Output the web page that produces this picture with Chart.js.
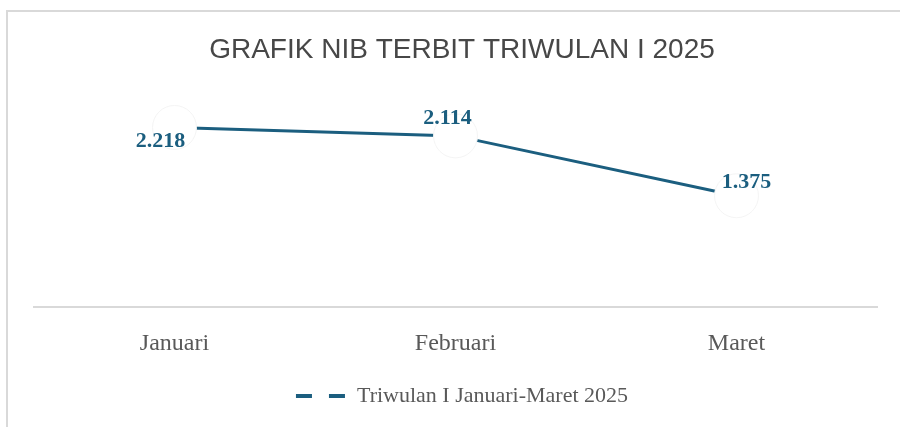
<!DOCTYPE html>
<html>
<head>
<meta charset="utf-8">
<script src="https://cdn.jsdelivr.net/npm/chart.js@4"></script>
<style>
  html, body { margin: 0; padding: 0; background: #fff; }
  #wrap { width: 900px; height: 427px; }
</style>
</head>
<body>
<div id="wrap"><canvas id="nibChart"></canvas></div>
<script>
// data
const months = ['Januari', 'Februari', 'Maret'];
const nibValues = [2218, 2114, 1375];
const valueLabels = ['2.218', '2.114', '1.375'];
const seriesName = 'Triwulan I Januari-Maret 2025';

const lineColor = '#1b5e7f';
const textGray = '#595959';

// light frame around the chart, like the exported picture
const framePlugin = {
  id: 'frame',
  beforeDraw(chart) {
    const ctx = chart.ctx;
    ctx.save();
    ctx.strokeStyle = '#d9d9d9';
    ctx.lineWidth = 2;
    ctx.beginPath();
    ctx.moveTo(7, chart.height);
    ctx.lineTo(7, 11);
    ctx.lineTo(chart.width, 11);
    ctx.stroke();
    ctx.restore();
  }
};

// value labels next to each point
const labelOffsets = [[-14, 14], [-8, -18], [10, -13]];
const valueLabelPlugin = {
  id: 'valueLabels',
  afterDatasetsDraw(chart) {
    const ctx = chart.ctx;
    const meta = chart.getDatasetMeta(0);
    ctx.save();
    ctx.font = 'bold 22px "Liberation Serif", "Times New Roman", serif';
    ctx.fillStyle = lineColor;
    ctx.textAlign = 'center';
    ctx.textBaseline = 'middle';
    meta.data.forEach((pt, i) => {
      const off = labelOffsets[i];
      ctx.fillText(valueLabels[i], pt.x + off[0], pt.y + off[1]);
    });
    ctx.restore();
  }
};

new Chart(document.getElementById('nibChart').getContext('2d'), {
  type: 'line',
  data: {
    labels: months,
    datasets: [{
      label: seriesName,
      data: nibValues,
      borderColor: lineColor,
      borderWidth: 3,
      pointRadius: 22,
      pointHoverRadius: 22,
      pointBackgroundColor: '#ffffff',
      pointBorderColor: '#f4f4f4',
      pointBorderWidth: 1,
      tension: 0,
      clip: false
    }]
  },
  options: {
    responsive: true,
    maintainAspectRatio: false,
    animation: false,
    layout: { padding: { left: 34, right: 10, top: 0, bottom: 10 } },
    plugins: {
      title: {
        display: true,
        text: 'GRAFIK NIB TERBIT TRIWULAN I 2025',
        color: '#474747',
        font: { family: '"Liberation Sans", Arial, sans-serif', size: 28, weight: 'normal' },
        padding: { top: 33, bottom: 38 }
      },
      legend: {
        position: 'bottom',
        labels: {
          usePointStyle: true,
          pointStyleWidth: 50,
          color: textGray,
          font: { family: '"Liberation Serif", "Times New Roman", serif', size: 22 },
          padding: 13,
          generateLabels() {
            return [{
              text: seriesName,
              pointStyle: 'line',
              strokeStyle: lineColor,
              fillStyle: lineColor,
              lineWidth: 4,
              lineDash: [16, 17],
              fontColor: textGray
            }];
          }
        }
      },
      tooltip: { enabled: false }
    },
    scales: {
      x: {
        offset: true,
        grid: { display: false },
        border: { display: true, color: '#d9d9d9', width: 2 },
        ticks: {
          color: textGray,
          padding: 14,
          font: { family: '"Liberation Serif", "Times New Roman", serif', size: 24 }
        }
      },
      y: {
        display: false,
        min: 0,
        max: 2500
      }
    }
  },
  plugins: [framePlugin, valueLabelPlugin]
});
</script>
</body>
</html>
